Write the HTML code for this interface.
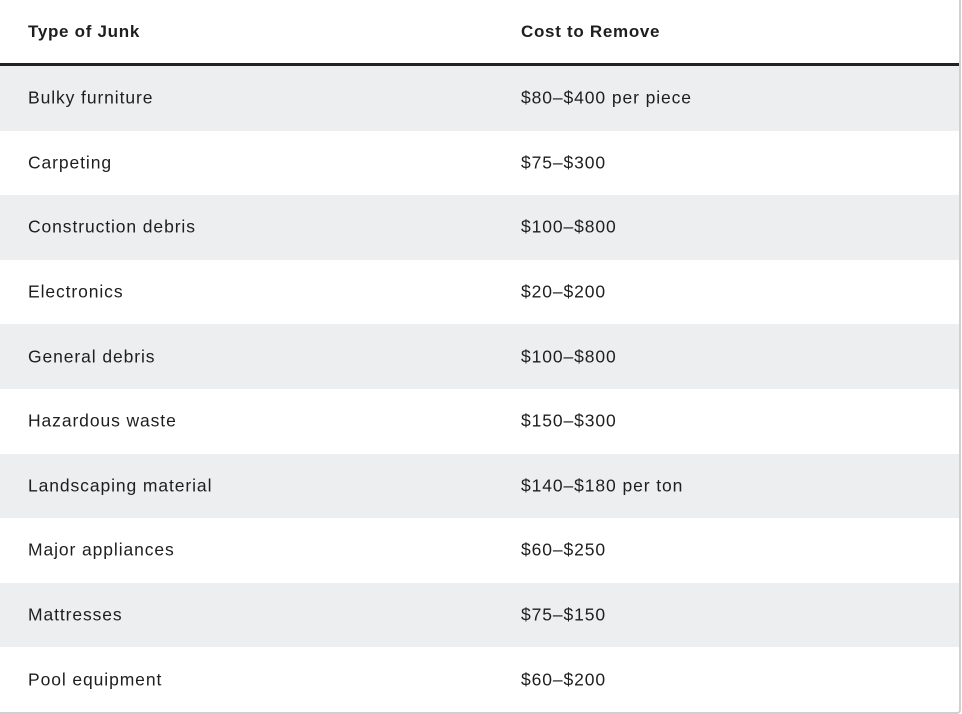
<!DOCTYPE html>
<html><head><style>
body{margin:0;background:#fff;width:962px;height:714px;overflow:hidden;font-family:"Liberation Sans",sans-serif;color:#1e1e1e}
.t{position:absolute;left:0;top:0;width:959px;height:712px;border-right:2px solid #d0d0d0;border-bottom:2px solid #d0d0d0;border-radius:0 0 4px 0;overflow:hidden}
.h{height:63px;border-bottom:3px solid #222;position:relative;font-weight:bold;font-size:17px;letter-spacing:0.7px}
.r{height:64.6px;position:relative;font-size:17.5px;letter-spacing:0.9px}
.r:nth-child(even){background:#edeef0}
.a,.b{position:absolute;top:50%;transform:translateY(-50%)}
.a{left:28px}.b{left:521px}
</style></head><body><div class="t">
<div class="h"><span class="a">Type of Junk</span><span class="b">Cost to Remove</span></div>
<div class="r"><span class="a">Bulky furniture</span><span class="b">$80–$400 per piece</span></div>
<div class="r"><span class="a">Carpeting</span><span class="b">$75–$300</span></div>
<div class="r"><span class="a">Construction debris</span><span class="b">$100–$800</span></div>
<div class="r"><span class="a">Electronics</span><span class="b">$20–$200</span></div>
<div class="r"><span class="a">General debris</span><span class="b">$100–$800</span></div>
<div class="r"><span class="a">Hazardous waste</span><span class="b">$150–$300</span></div>
<div class="r"><span class="a">Landscaping material</span><span class="b">$140–$180 per ton</span></div>
<div class="r"><span class="a">Major appliances</span><span class="b">$60–$250</span></div>
<div class="r"><span class="a">Mattresses</span><span class="b">$75–$150</span></div>
<div class="r"><span class="a">Pool equipment</span><span class="b">$60–$200</span></div>
</div></body></html>
